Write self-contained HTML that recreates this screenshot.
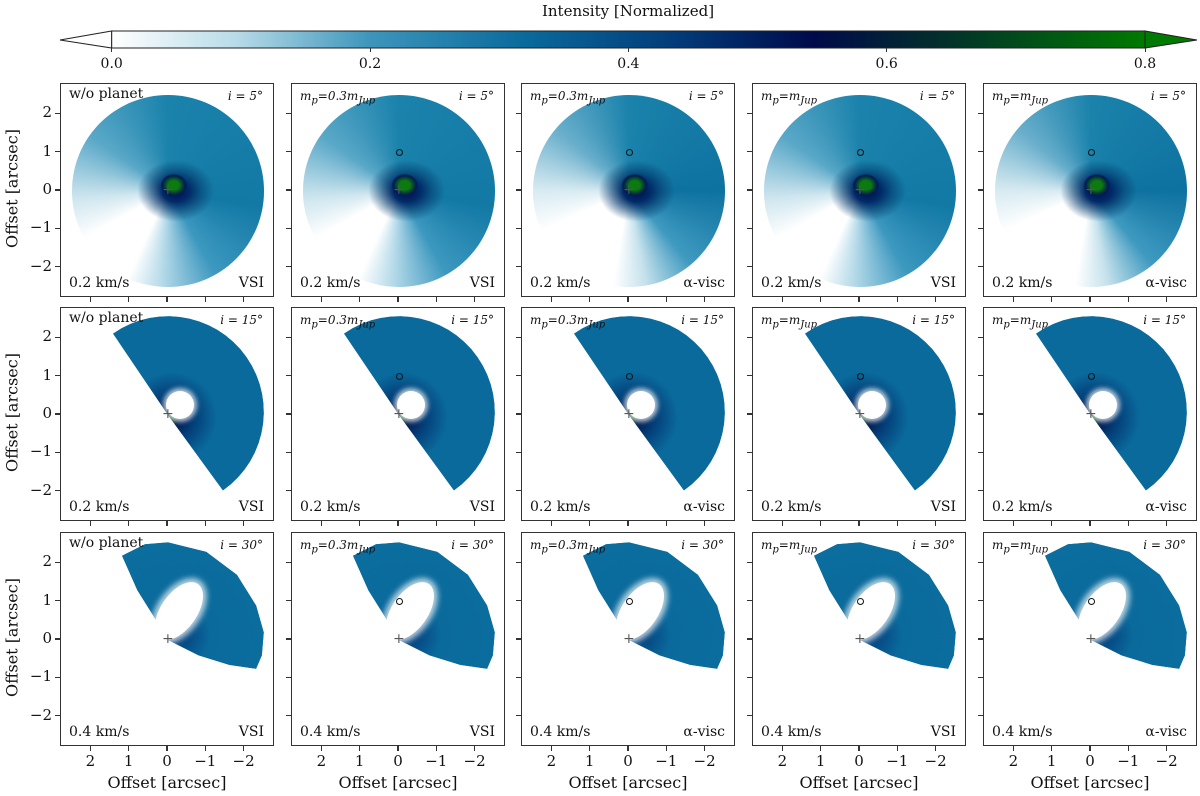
<!DOCTYPE html>
<html><head><meta charset="utf-8">
<style>
body{margin:0;background:#fff;width:1200px;height:796px;position:relative;overflow:hidden;font-family:"DejaVu Serif","Liberation Serif",serif;color:#111}
.abs{position:absolute}
.panel{position:absolute;width:214px;height:214px;border:1.3px solid #333;box-sizing:border-box;overflow:hidden;background:#fff}
.lbl{position:absolute;font-size:14px;white-space:nowrap}
.it{font-style:italic;font-size:12px}
.tick{position:absolute;background:#333}
.tl{position:absolute;font-size:14px;white-space:nowrap}
</style></head><body>
<div class="abs" style="left:0;width:1256px;top:2px;text-align:center;font-size:15px">Intensity [Normalized]</div>
<svg class="abs" style="left:0;top:0" width="1200" height="60">
<defs><linearGradient id="cm" x1="0" x2="1">
<stop offset="0" stop-color="#ffffff"/><stop offset="0.12" stop-color="#b8dbe8"/><stop offset="0.25" stop-color="#3d95bb"/><stop offset="0.4" stop-color="#0a6a9c"/><stop offset="0.55" stop-color="#023a78"/><stop offset="0.68" stop-color="#000a4a"/><stop offset="0.8" stop-color="#032e2c"/><stop offset="1" stop-color="#007a00"/></linearGradient></defs>
<polygon points="60,40 111.7,31 111.7,48" fill="#fff" stroke="#222" stroke-width="1"/>
<polygon points="1197,40 1145,31 1145,48" fill="#007a00" stroke="#222" stroke-width="1"/>
<rect x="111.7" y="31" width="1033.3" height="17" fill="url(#cm)" stroke="#222" stroke-width="1"/>
</svg>
<div id="root"></div>
<script>
const cbTicks=[0.0,0.2,0.4,0.6,0.8];
const inclinations=[5,15,30];
const velocities=["0.2 km/s","0.2 km/s","0.4 km/s"];
const modelLabels=["w/o planet","m<sub>p</sub>=0.3m<sub>Jup</sub>","m<sub>p</sub>=0.3m<sub>Jup</sub>","m<sub>p</sub>=m<sub>Jup</sub>","m<sub>p</sub>=m<sub>Jup</sub>"];
const physics=["VSI","VSI","α-visc","VSI","α-visc"];
const hasPlanet=[false,true,true,true,true];
const axTicks=[2,1,0,-1,-2];
const colLeft=[60,291,521,752,983], rowTop=[83,307,532];
const S=38.3;
const root=document.getElementById('root');
function add(tag,style,name,html){const e=document.createElement(tag);e.style.cssText=style;


if(html!==undefined)e.innerHTML=html;root.appendChild(e);return e;}
cbTicks.forEach(v=>{const x=111.7+v/0.8*1033.3;
add('div',`left:${x-0.5}px;top:48px;width:1px;height:4px`,'colorbar-tick').className='tick';
add('div',`left:${x-20}px;top:56px;width:40px;text-align:center`,'colorbar-tick-label',v.toFixed(1)).className='tl';});
function disk(i,c){
  const o=107,R=2.5*S;
  if(i===5){
    const cone=c===2||c===4?'conic-gradient(from 0deg,#1a82ab 0deg,#0e72a0 90deg,#3f9ac0 140deg,#c6e2ec 170deg,#fff 190deg,#fff 245deg,#d8ebf2 270deg,#6aafcc 310deg,#1a82ab 360deg)':'conic-gradient(from 0deg,#1a82ab 0deg,#1279a5 100deg,#3c98bf 150deg,#b9dcea 185deg,#fff 205deg,#fff 240deg,#cfe6ef 265deg,#5aa8c8 305deg,#1a82ab 360deg)';
    return `<div style="position:absolute;left:${o-R}px;top:${o-R}px;width:${2*R}px;height:${2*R}px;border-radius:50%;background:radial-gradient(ellipse 7% 6% at 53% 47%,#0c7a10 0,#0c7a10 40%,#001a50 85%,transparent 100%),radial-gradient(ellipse 20% 16% at 54% 50%,#000d48 0,#012a68 35%,rgba(3,60,110,0.6) 65%,transparent 100%),${cone}"></div>`;
  }
  if(i===15){
    const pts=[[0,0]];
    for(let a=-35;a<=146;a+=6){const rad=a*Math.PI/180;pts.push([o+R*Math.sin(rad),o-R*Math.cos(rad)-3]);}
    const poly=pts.map((q,k)=>k===0?`${o}px ${o}px`:`${q[0]}px ${q[1]}px`).join(',');
    return `<div style="position:absolute;left:0;top:0;width:214px;height:214px;clip-path:polygon(${poly});background:radial-gradient(circle at ${o+4}px ${o+2}px,#0c5a20 0,#021c50 8px,#033e78 22px,#0a6a9c 45px),linear-gradient(135deg,#4a9fc4 0,#1e7cab 30%,#0a6a9c 45%)"></div>
    <div style="position:absolute;left:${o+12-14}px;top:${o-10-14}px;width:28px;height:28px;border-radius:50%;background:#fff;box-shadow:0 0 5px 3px rgba(255,255,255,0.7)"></div>`;
  }
  const pts=[[0,0],[0.3,0.5],[0.8,1.3],[1.2,2.2],[0.6,2.5],[0,2.55],[-1,2.3],[-1.8,1.7],[-2.3,0.9],[-2.5,0.2],[-2.45,-0.4],[-2.3,-0.75],[-1.6,-0.65],[-0.8,-0.4]];
  const poly=pts.map(q=>`${o-q[0]*S}px ${o-q[1]*S}px`).join(',');
  return `<div style="position:absolute;left:0;top:0;width:214px;height:214px;clip-path:polygon(${poly});background:radial-gradient(circle at ${o+10}px ${o-5}px,#033a78 0,#0a6a9c 20%,#0b6e9e 60%,#2f8fb8 85%,#9ccbe0 100%),#0b6e9e"></div>
  <div style="position:absolute;left:${o-7}px;top:${o-62}px;width:36px;height:66px;border-radius:50%;background:#fff;transform:rotate(35deg);box-shadow:0 0 6px 4px rgba(255,255,255,0.7)"></div>`;
}
inclinations.forEach((inc,r)=>{
  colLeft.forEach((L,c)=>{
    const T=rowTop[r];
    const p=add('div',`left:${L}px;top:${T}px`,`panel-r${r+1}-c${c+1}`);p.className='panel';
    let h=disk(inc,c);
    h+=`<div style="position:absolute;left:${101}px;top:${99}px;font-size:14px;color:#555;line-height:14px">+</div>`;
    if(hasPlanet[c]) h+=`<div style="position:absolute;left:${107-3.5}px;top:${107-S-3.5}px;width:5px;height:5px;border:1.5px solid #111;border-radius:50%"></div>`;
    h+=`<div class="lbl ${c?'it':''}" style="left:8px;top:${c?5:2}px">${modelLabels[c]}</div>`;
    h+=`<div class="lbl it" style="right:10px;top:5px">i = ${inc}°</div>`;
    h+=`<div class="lbl" style="left:8px;bottom:5px">${velocities[r]}</div>`;
    h+=`<div class="lbl" style="right:9px;bottom:5px">${physics[c]}</div>`;
    p.innerHTML=h;
    axTicks.forEach(t=>{
      const y=T+107-t*S;
      add('div',`left:${L-5}px;top:${y-0.6}px;width:5px;height:1.2px`,'y-tick').className='tick';
      if(c===0) add('div',`left:${L-42}px;top:${y-10}px;width:34px;text-align:right;font-size:15px`,'y-tick-label',t<0?'−'+(-t):t).className='tl';
      const x=L+107-t*S;
      add('div',`left:${x-0.6}px;top:${T+214}px;width:1.2px;height:5px`,'x-tick').className='tick';
      if(r===2) add('div',`left:${x-20}px;top:${T+220}px;width:40px;text-align:center;font-size:15px`,'x-tick-label',t<0?'−'+(-t):t).className='tl';
    });
    if(r===2) add('div',`left:${L}px;top:${T+241}px;width:214px;text-align:center;font-size:16px`,'x-axis-title','Offset [arcsec]').className='tl';
  });
  add('div',`left:${12-100}px;top:${rowTop[r]+107-11}px;width:200px;text-align:center;font-size:16px;transform:rotate(-90deg)`,'y-axis-title','Offset [arcsec]').className='tl';
});
</script>
</body></html>
